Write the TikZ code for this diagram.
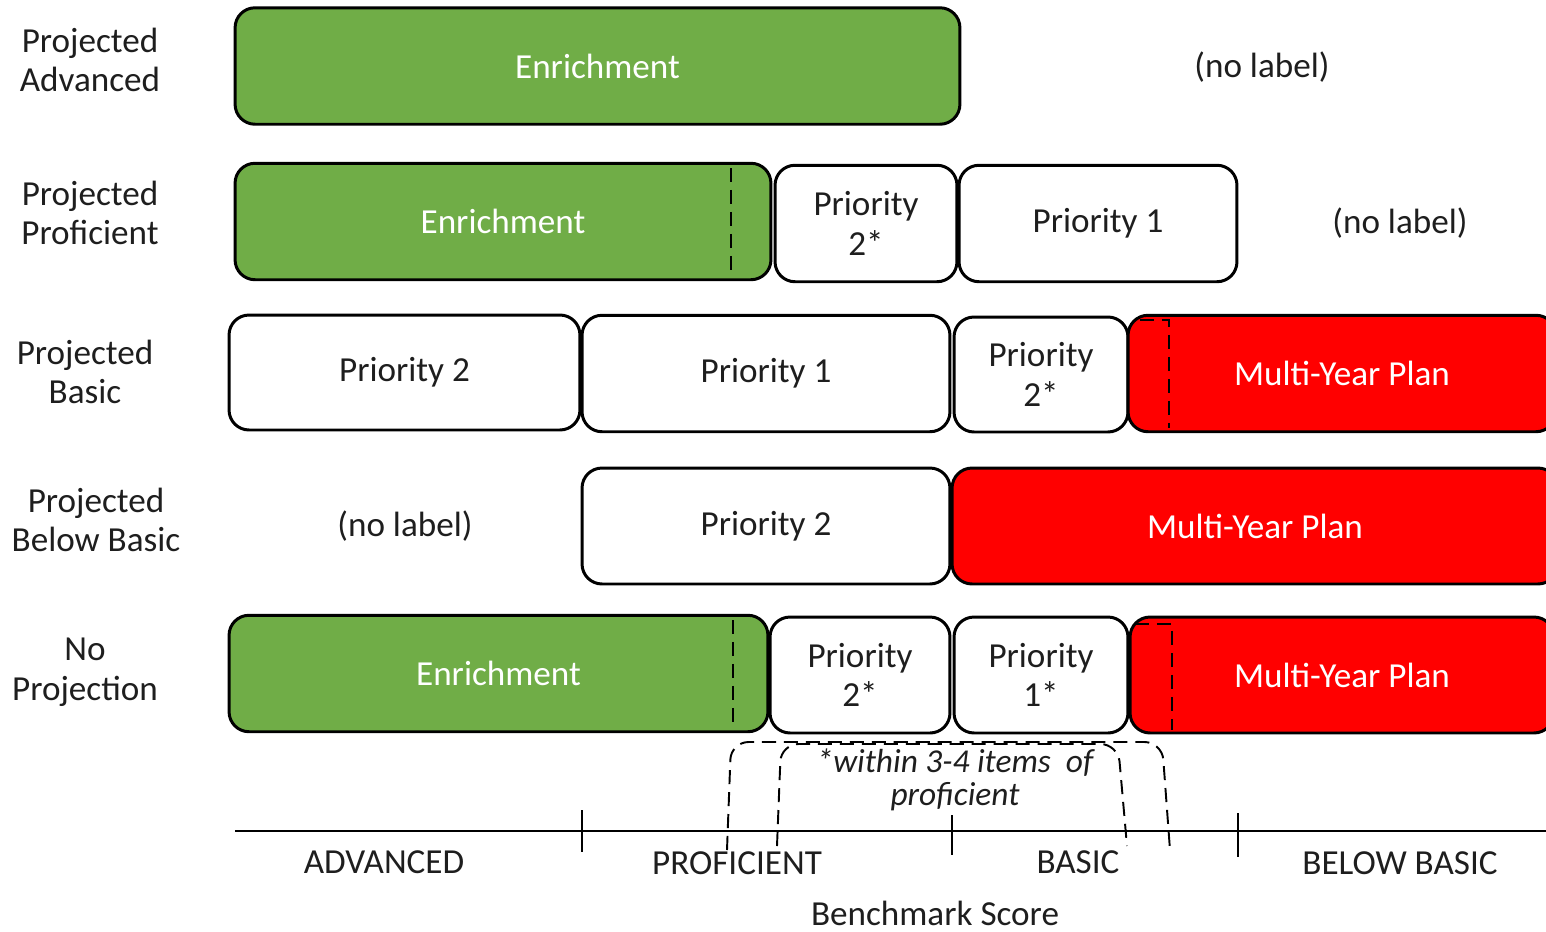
\documentclass[tikz,border=0pt]{standalone}
\usepackage{fontspec}
\setmainfont{Carlito}
\definecolor{enrgreen}{HTML}{70AD47}
\definecolor{planred}{HTML}{FF0000}
\definecolor{txtgrey}{HTML}{1E1E1E}

\begin{document}
\begin{tikzpicture}[x=0.02cm,y=-0.02cm,
                    font=\fontsize{20}{22.5}\selectfont,text=txtgrey,
                    box/.style={rectangle,rounded corners=0.4cm,draw=black,line width=1.7pt,
                                inner sep=0pt,align=center,minimum height=2.33cm},
                    enr box/.style={box,fill=enrgreen,text=white},
                    prio box/.style={box,fill=white},
                    plan box/.style={box,fill=planred,text=white},
                    row label/.style={align=center},
                    dashline/.style={line width=1.1pt,dash pattern=on 8pt off 4.5pt}]
  \useasboundingbox (0,0) rectangle (1546,931);
  \clip (0,0) rectangle (1546,931);

  % row labels
  \node[row label] (r1) at (90,60)  {Projected\\Advanced};
  \node[row label] (r2) at (90,213) {Projected\\Proficient};
  \node[row label] (r3) at (85,372) {Projected\\Basic};
  \node[row label] (r4) at (96,520) {Projected\\Below Basic};
  \node[row label] (r5) at (85,672) {No\\Projection};

  % projected advanced
  \node[enr box,minimum width=14.50cm] (a1) at (597.5,66) {Enrichment};
  \node (a2) at (1262,67) {(no label)};

  % projected proficient
  \node[enr box,minimum width=10.72cm] (p1) at (503,221.5) {Enrichment};
  \node[prio box,minimum width=3.64cm] (p2) at (866,223.5) {Priority\\2*};
  \node[prio box,minimum width=5.56cm] (p3) at (1098,223.5) {Priority 1};
  \node (p4) at (1400,223) {(no label)};

  % projected basic
  \node[prio box,minimum width=7.02cm,minimum height=2.30cm] (b1) at (404.5,372.5) {Priority 2};
  \node[prio box,minimum width=7.36cm] (b2) at (766,373.5) {Priority 1};
  \node[prio box,minimum width=3.48cm,minimum height=2.30cm] (b3) at (1041,374.5) {Priority\\2*};
  \node[plan box,minimum width=8.56cm] (b4) at (1342,373.5) {Multi-Year Plan};

  % projected below basic
  \node (bb1) at (405,526) {(no label)};
  \node[prio box,minimum width=7.36cm,minimum height=2.32cm] (bb2) at (766,526) {Priority 2};
  \node[plan box,minimum width=12.12cm,minimum height=2.32cm] (bb3) at (1255,526) {Multi-Year Plan};

  % no projection
  \node[enr box,minimum width=10.78cm] (n1) at (498.5,673.5) {Enrichment};
  \node[prio box,minimum width=3.60cm,minimum height=2.32cm] (n2) at (860,675) {Priority\\2*};
  \node[prio box,minimum width=3.48cm,minimum height=2.32cm] (n3) at (1041,675) {Priority\\1*};
  \node[plan box,minimum width=8.48cm,minimum height=2.32cm] (n4) at (1342,675) {Multi-Year Plan};

  % dashed marks
  \draw[dashline] (731,168) -- (731,272);
  \draw[dashline] (1140,320) -- (1169,320) -- (1169,428);
  \draw[dashline] (733,620) -- (733,728);
  \draw[dashline] (1135,624) -- (1172,624) -- (1172,730);
  \draw[dashline,rounded corners=10] (727,850) -- (731,742) -- (1162,742) -- (1170,850);
  \draw[dashline,rounded corners=10] (777,846) -- (781,744) -- (1118,744) -- (1127,846);

  \node[font=\itshape\fontsize{19}{19}\selectfont,align=center] (note) at (955,780)
       {*within 3-4 items\ \ of\\proficient};

  % benchmark axis
  \coordinate (ax0) at (235,831);
  \coordinate (ax1) at (1546,831);
  \draw[line width=1pt] (ax0) -- (ax1);
  \draw[line width=1pt] (582,810) -- (582,852);
  \draw[line width=1pt] (952,815) -- (952,855);
  \draw[line width=1pt] (1238,813) -- (1238,857);
  \node (l1) at (384,862)  {ADVANCED};
  \node (l2) at (737,863)  {PROFICIENT};
  \node (l3) at (1078,862) {BASIC};
  \node (l4) at (1400,863) {BELOW BASIC};
  \node (bs) at (935,913)  {Benchmark Score};
\end{tikzpicture}
\end{document}
